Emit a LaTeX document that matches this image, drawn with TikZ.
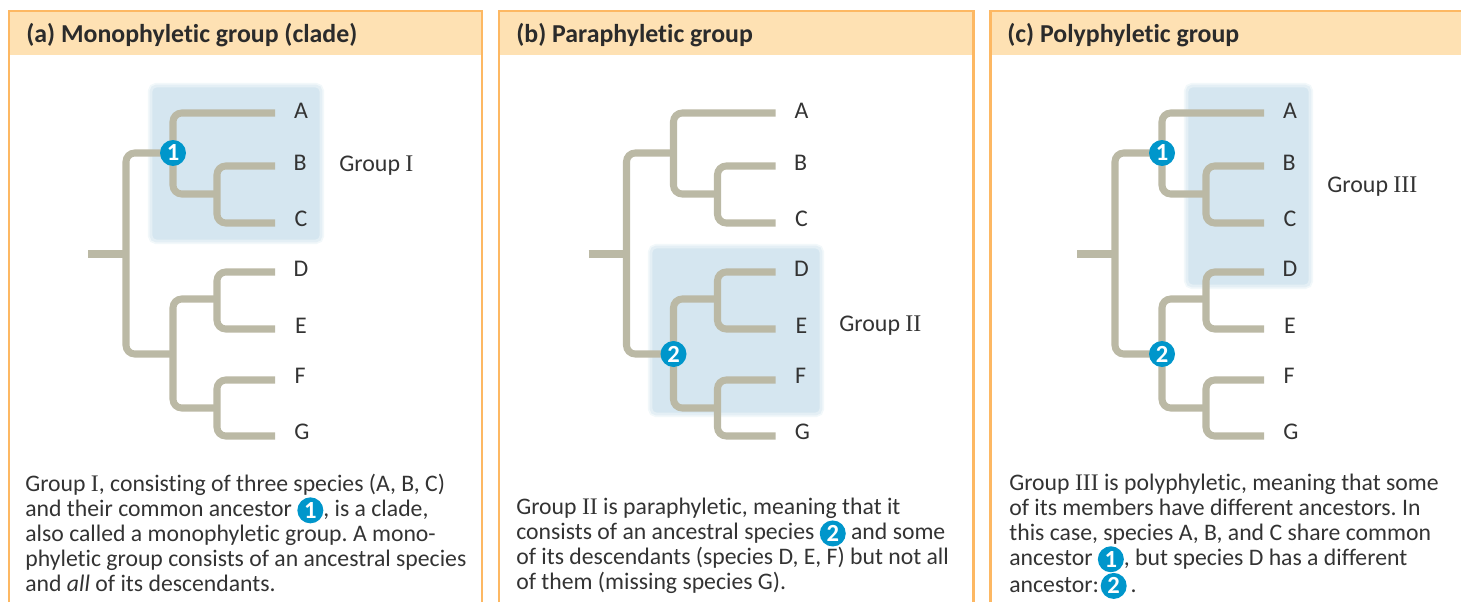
\documentclass[tikz,border=0pt]{standalone}
\usepackage{fontspec}
\setmainfont{Carlito}[Ligatures=NoCommon]
\newfontfamily\numeralfont{Liberation Serif}
\usepackage{xcolor}
\usetikzlibrary{positioning}
\definecolor{myorange}{HTML}{FDB863}
\definecolor{myheader}{HTML}{FEE1B3}
\definecolor{mybranch}{HTML}{BBB9A5}
\definecolor{myshade}{HTML}{D5E6F0}
\definecolor{mybadge}{HTML}{0096CB}
\definecolor{myink}{HTML}{333333}
\tikzset{
	panel/.style={draw=myorange, line width=1.7pt},
	header/.style={fill=myheader},
	headtext/.style={anchor=base west, inner sep=0pt, text=myink!85!black, font=\fontsize{14.7}{16}\selectfont\bfseries},
	bodytext/.style={anchor=north west, inner sep=0pt, align=left, text=myink, font=\fontsize{13.5}{14.17}\selectfont\frenchspacing},
	leaf/.style={inner sep=0pt, text=myink, font=\fontsize{13.6}{16}\selectfont},
	grouplabel/.style={anchor=west, inner sep=0pt, text=myink, font=\fontsize{13.6}{16}\selectfont},
	branch/.style={draw=mybranch, line width=4pt, rounded corners=5pt},
	shadebox/.style={fill=myshade, rounded corners=3pt,
		preaction={draw=myshade!30, line width=3.6pt},
		postaction={draw=myshade!65, line width=1.6pt}},
	badge/.style={circle, fill=mybadge, inner sep=0pt, minimum size=0.52cm, text=white, font=\fontsize{14}{14}\selectfont\bfseries}
}
\newcommand{\gnum}[1]{{\numeralfont #1}}
\newcommand{\inbadge}[1]{\raisebox{-0.135cm}[0pt][0pt]{\tikz\node[badge] (inline#1) {#1};}}
\newcommand{\phylotree}{
	\coordinate (stem) at (88,254);
	\coordinate (base) at (126,254);
	\coordinate (up) at (173,153);
	\coordinate (low) at (173,354);
	\coordinate (tipA) at (275,113);
	\coordinate (tipB) at (275,166);
	\coordinate (tipC) at (275,223);
	\coordinate (tipD) at (275,272);
	\coordinate (tipE) at (275,329);
	\coordinate (tipF) at (275,380);
	\coordinate (tipG) at (275,436);
	\coordinate (bc) at (217,194);
	\coordinate (de) at (217,299);
	\coordinate (fg) at (217,408);
	\draw[branch] (stem) -- (base);
	\draw[branch] (up) -| (base) |- (low);
	\draw[branch] (tipA) -| (up) |- (bc);
	\draw[branch] (tipB) -| (bc) |- (tipC);
	\draw[branch] (de) -| (low) |- (fg);
	\draw[branch] (tipD) -| (de) |- (tipE);
	\draw[branch] (tipF) -| (fg) |- (tipG);
	\node[leaf] (A) at (301,111) {A};
	\node[leaf] (B) at (300,163) {B};
	\node[leaf] (C) at (301,219) {C};
	\node[leaf] (D) at (301,269) {D};
	\node[leaf] (E) at (301,326) {E};
	\node[leaf] (F) at (300,376) {F};
	\node[leaf] (G) at (302,432) {G};
}
\begin{document}
\begin{tikzpicture}[x=0.02cm, y=-0.02cm]
	\useasboundingbox (0,0) rectangle (1461,602);
	\foreach \px/\qx in {0/482, 490/973, 981/1470} {
		\fill[header] (\px+9,11) rectangle (\qx,55);
		\draw[panel] (\px+9,602) -- (\px+9,11) -- (\qx,11) -- (\qx,602);
	}
	\node[headtext] (heada) at (26,42) {(a) Monophyletic group (clade)};
	\node[headtext] (headb) at (516,42) {(b) Paraphyletic group};
	\node[headtext] (headc) at (1007,42) {(c) Polyphyletic group};
	\path[shadebox] (151,86) rectangle (321,241);
	\path[shadebox] (651,247) rectangle (821,414);
	\path[shadebox] (1187,86) rectangle (1310,286);
	\begin{scope}[name prefix=a-]
		\phylotree
		\node[badge] (one) at (up) {1};
		\node[grouplabel] (group) at (339,166) {Group \gnum{I}};
	\end{scope}
	\begin{scope}[shift={(500.5,0)}, name prefix=b-]
		\phylotree
		\node[badge] (two) at (low) {2};
		\node[grouplabel] (group) at (338.5,326) {Group \gnum{II}};
	\end{scope}
	\begin{scope}[shift={(989,0)}, name prefix=c-]
		\phylotree
		\node[badge] (one) at (up) {1};
		\node[badge] (two) at (low) {2};
		\node[grouplabel] (group) at (338,187) {Group \gnum{III}};
	\end{scope}
	\node[bodytext] (texta) at (25,474) {Group \gnum{I}, consisting of three species (A, B, C)\\
		and their common ancestor \inbadge{1}, is a clade,\\
		also called a monophyletic group. A mono-\\
		phyletic group consists of an ancestral species\\
		and \textit{all} of its descendants.};
	\node[bodytext] (textb) at (516,498) {Group \gnum{II} is paraphyletic, meaning that it\\
		consists of an ancestral species \inbadge{2} and some\\
		of its descendants (species D, E, F) but not all\\
		of them (missing species G).};
	\node[bodytext] (textc) at (1009,474) {Group \gnum{III} is polyphyletic, meaning that some\\
		of its members have different ancestors. In\\
		this case, species A, B, and C share common\\
		ancestor \inbadge{1}, but species D has a different\\[1pt]
		ancestor:\kern-2pt\ \inbadge{2}\,.};
\end{tikzpicture}
\end{document}
